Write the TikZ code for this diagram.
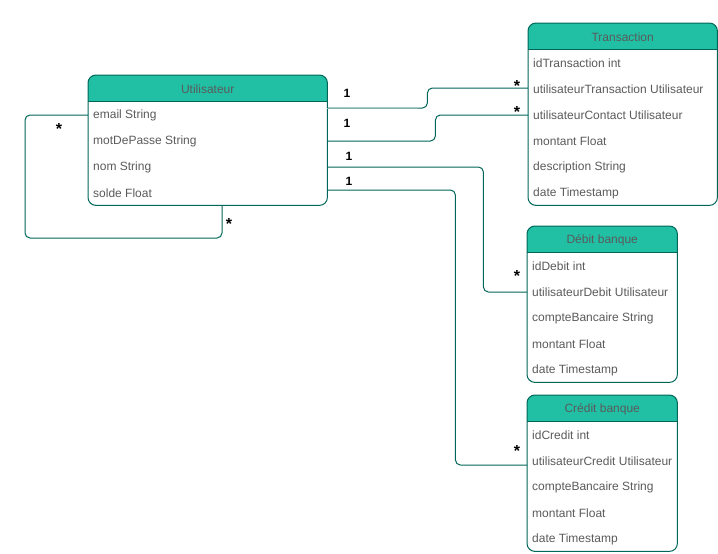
\documentclass[tikz,border=0pt]{standalone}
\usepackage{fontspec}
\setmainfont{Liberation Sans}
\usetikzlibrary{calc}

\definecolor{headfill}{HTML}{21C0A5}
\definecolor{edge}{HTML}{006658}
\definecolor{edgelight}{HTML}{7FB5AC}
\definecolor{txt}{HTML}{5A5A5A}

% class box: name, left x, top y, width, title, comma-separated attributes
\newcommand\umlclass[6]{%
  \node[classbox, minimum width=#4pt, anchor=north west] (#1) at (#2,#3) {};
  \begin{scope}
    \clip[rounded corners=8pt] (#1.north west) rectangle (#1.south east);
    \fill[headfill] (#1.north west) rectangle ($(#1.north east)+(0,26)$);
  \end{scope}
  \draw[edge, line width=1pt] ($(#1.north west)+(0,26)$) -- ($(#1.north east)+(0,26)$);
  \draw[edge, line width=1pt, rounded corners=8pt] (#1.north west) rectangle (#1.south east);
  \node[title] (#1-h) at ($(#1.north)+(0,14)$) {#5};
  \foreach \t [count=\i] in {#6} {
    \node[attr] (#1-\i) at ($(#1.north west)+(0,14+26*\i)$) {\t};
  }
}

\tikzset{
  classbox/.style={rectangle, inner sep=0pt, minimum height=#1},
  classbox/.default=130pt,
  title/.style={text=txt, font=\fontsize{12}{14}\selectfont, inner sep=0pt},
  attr/.style={anchor=west, text=txt, font=\fontsize{12}{14}\selectfont,
    inner xsep=5pt, inner ysep=0pt},
  conn/.style={edge, line width=1pt, rounded corners=5pt},
  one/.style={anchor=base, font=\bfseries\fontsize{12}{14}\selectfont, inner sep=0pt},
  many/.style={anchor=base, font=\bfseries\fontsize{16}{18}\selectfont, inner sep=0pt},
}

\begin{document}
\begin{tikzpicture}[x=1pt, y=-1pt]
  \useasboundingbox (0,0) rectangle (718,554);

  \tikzset{classbox/.default=130pt}
  \umlclass{u}{88}{75}{239}{Utilisateur}{email String, motDePasse String, nom String, solde Float}
  \tikzset{classbox/.default=182pt}
  \umlclass{t}{528}{23}{189}{Transaction}{idTransaction int, utilisateurTransaction Utilisateur, utilisateurContact Utilisateur, montant Float, description String, date Timestamp}
  \tikzset{classbox/.default=156pt}
  \umlclass{d}{527}{226}{150}{Débit banque}{idDebit int, utilisateurDebit Utilisateur, compteBancaire String, montant Float, date Timestamp}
  \umlclass{c}{527}{395}{150}{Crédit banque}{idCredit int, utilisateurCredit Utilisateur, compteBancaire String, montant Float, date Timestamp}

  % self association on Utilisateur
  \draw[conn] (u-1 -| u.west) -- ++(-63,0) -- ++(0,123) -| ($(u.south west)+(134,0)$);
  \node[many] (s1) at (59,134) {*};
  \node[many] (s2) at (229,229) {*};

  % Utilisateur -> Transaction (utilisateurTransaction)
  \draw[conn] ($(u.north east)+(0,33)$) -- ++(100,0) |- ($(t-2 -| t.west)+(0,-1)$);
  \draw[edgelight, line width=1pt] ($(u.north east)+(0,33)$) -- ++(91,0);
  \node[one] (o1) at (347,97) {1};
  \node[many] (m1) at (517,91) {*};

  % Utilisateur -> Transaction (utilisateurContact)
  \draw[conn] (u-2 -| u.east) -- ++(108,0) |- (t-3 -| t.west);
  \node[one] (o2) at (347,127.5) {1};
  \node[many] (m2) at (517,117) {*};

  % Utilisateur -> Débit banque
  \draw[conn] (u-3 -| u.east) -- ++(156,0) |- (d-2 -| d.west);
  \node[one] (o3) at (349,160.5) {1};
  \node[many] (m3) at (517,281) {*};

  % Utilisateur -> Crédit banque
  \draw[conn] ($(u-4 -| u.east)+(0,-3)$) -- ++(128,0) |- ($(c-2 -| c.west)+(0,4)$);
  \node[one] (o4) at (349,185.5) {1};
  \node[many] (m4) at (517,456) {*};
\end{tikzpicture}
\end{document}
